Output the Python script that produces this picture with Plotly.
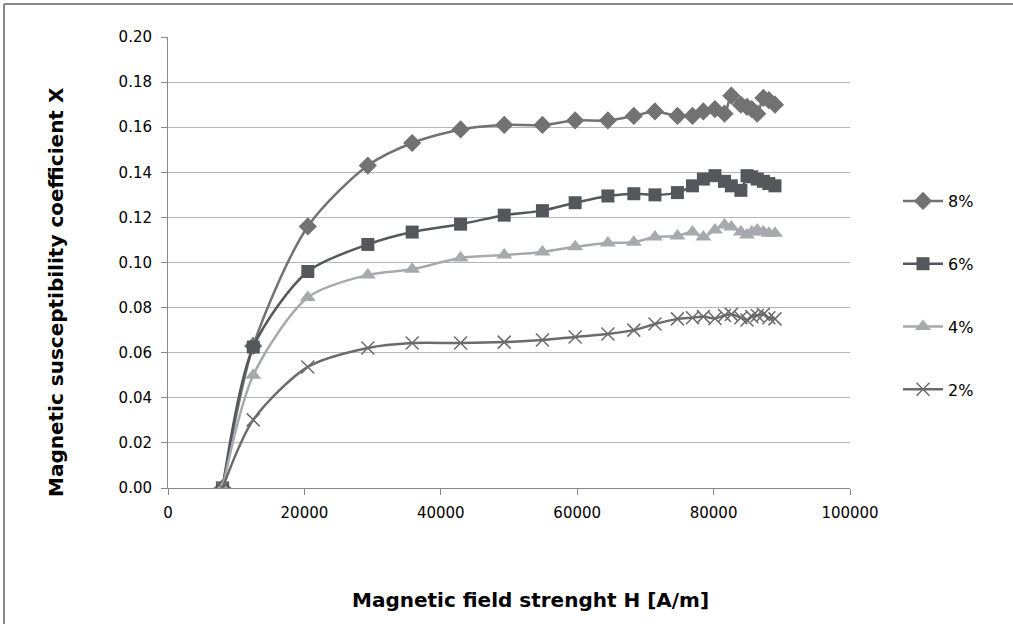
import plotly.graph_objects as go

H = [8000, 12500, 20500, 29300, 35800, 42900, 49300, 54900, 59700, 64500, 68300, 71400,
     74700, 76900, 78500, 80200, 81600, 82600, 84000, 84900, 85600, 86400, 87300, 88100, 89000]

s8 = [0, 0.063, 0.116, 0.143, 0.153, 0.159, 0.161, 0.161, 0.163, 0.163, 0.165, 0.167,
      0.165, 0.165, 0.167, 0.168, 0.166, 0.174, 0.170, 0.169, 0.168, 0.166, 0.173, 0.172, 0.170]
s6 = [0, 0.0625, 0.096, 0.108, 0.1135, 0.117, 0.121, 0.123, 0.1265, 0.1295, 0.1305, 0.130,
      0.131, 0.134, 0.137, 0.1385, 0.136, 0.134, 0.132, 0.1385, 0.138, 0.137, 0.136, 0.135, 0.134]
s4 = [0, 0.050, 0.0845, 0.0945, 0.097, 0.102, 0.1033, 0.1047, 0.107, 0.1087, 0.109, 0.1113,
      0.1118, 0.1135, 0.1113, 0.1144, 0.1166, 0.1157, 0.1135, 0.1122, 0.1135, 0.1144, 0.1135, 0.113, 0.113]
s2 = [0, 0.0302, 0.0537, 0.0621, 0.0643, 0.0643, 0.0647, 0.0656, 0.067, 0.0683, 0.070, 0.0727,
      0.075, 0.0755, 0.076, 0.0752, 0.0765, 0.077, 0.0755, 0.0745, 0.076, 0.0765, 0.077, 0.0755, 0.075]

series_names = ["8%", "6%", "4%", "2%"]
y_ticks = [0, 0.02, 0.04, 0.06, 0.08, 0.10, 0.12, 0.14, 0.16, 0.18, 0.20]
x_ticks = [0, 20000, 40000, 60000, 80000, 100000]
x_title = "Magnetic field strenght H [A/m]"
y_title = "Magnetic susceptibility coefficient X"

styles = [
    dict(color="#727272", symbol="diamond", size=14),
    dict(color="#55575c", symbol="square", size=13),
    dict(color="#a7a9ac", symbol="triangle-up", size=14),
    dict(color="#6b6b6b", symbol="x-thin", size=13),
]

fig = go.Figure()
for name, ys, st in zip(series_names, [s8, s6, s4, s2], styles):
    if st["symbol"] == "x-thin":
        marker = dict(symbol="x-thin", size=st["size"], color=st["color"],
                      line=dict(width=1.5, color=st["color"]))
    else:
        marker = dict(symbol=st["symbol"], size=st["size"], color=st["color"],
                      line=dict(width=0))
    fig.add_trace(go.Scatter(
        x=H, y=ys, name=name, mode="lines+markers",
        line=dict(color=st["color"], width=2.5, shape="spline", smoothing=0.8),
        marker=marker, legendgroup=name,
    ))

L, R, T, B = 168, 163, 37, 136
pw, ph = 1013 - L - R, 624 - T - B

def px(x):
    return (x - L) / pw

def py(y):
    return (624 - B - y) / ph

tickfont = dict(size=15, family="DejaVu Sans", color="#000")
titlefont = dict(size=20, family="DejaVu Sans", color="#000")

fig.update_layout(
    width=1013, height=624,
    margin=dict(l=L, r=R, t=T, b=B, autoexpand=False),
    paper_bgcolor="white", plot_bgcolor="white",
    font=dict(family="DejaVu Sans, sans-serif", color="#000000"),
    showlegend=True,
    legend=dict(x=px(898), y=py(184), xanchor="left", yanchor="top",
                font=dict(family="DejaVu Sans", size=16, color="#000"),
                tracegroupgap=39, itemwidth=40, bgcolor="rgba(0,0,0,0)"),
    xaxis=dict(range=[0, 100000], tickvals=x_ticks, tickformat="d",
               showgrid=False, zeroline=False, showline=True, linecolor="#888888",
               linewidth=1, ticks="outside", ticklen=6, tickcolor="#888888",
               tickfont=tickfont, ticklabelstandoff=5),
    yaxis=dict(range=[0, 0.2], tickvals=y_ticks, tickformat=".2f",
               showgrid=True, gridcolor="#b5b5b5", gridwidth=1.3,
               zeroline=False, showline=True, linecolor="#888888", linewidth=1,
               ticks="outside", ticklen=6, tickcolor="#888888",
               tickfont=tickfont, ticklabelstandoff=6),
    annotations=[
        dict(text="<b>" + x_title + "</b>", xref="paper", yref="paper",
             x=px(530), y=py(600), xanchor="center", yanchor="middle",
             showarrow=False, font=titlefont),
        dict(text="<b>" + y_title + "</b>", xref="paper", yref="paper",
             x=px(56), y=py(292), xanchor="center", yanchor="middle",
             textangle=-90, showarrow=False, font=titlefont),
    ],
    shapes=[
        dict(type="line", xref="paper", yref="paper", x0=px(4), x1=px(1020),
             y0=py(4), y1=py(4), line=dict(color="#888888", width=2)),
        dict(type="line", xref="paper", yref="paper", x0=px(4), x1=px(4),
             y0=py(4), y1=py(640), line=dict(color="#888888", width=2)),
    ],
)

fig.write_html("out.html", config={"displayModeBar": False},
               post_script="document.body.style.margin='0';document.body.style.overflow='hidden';")
